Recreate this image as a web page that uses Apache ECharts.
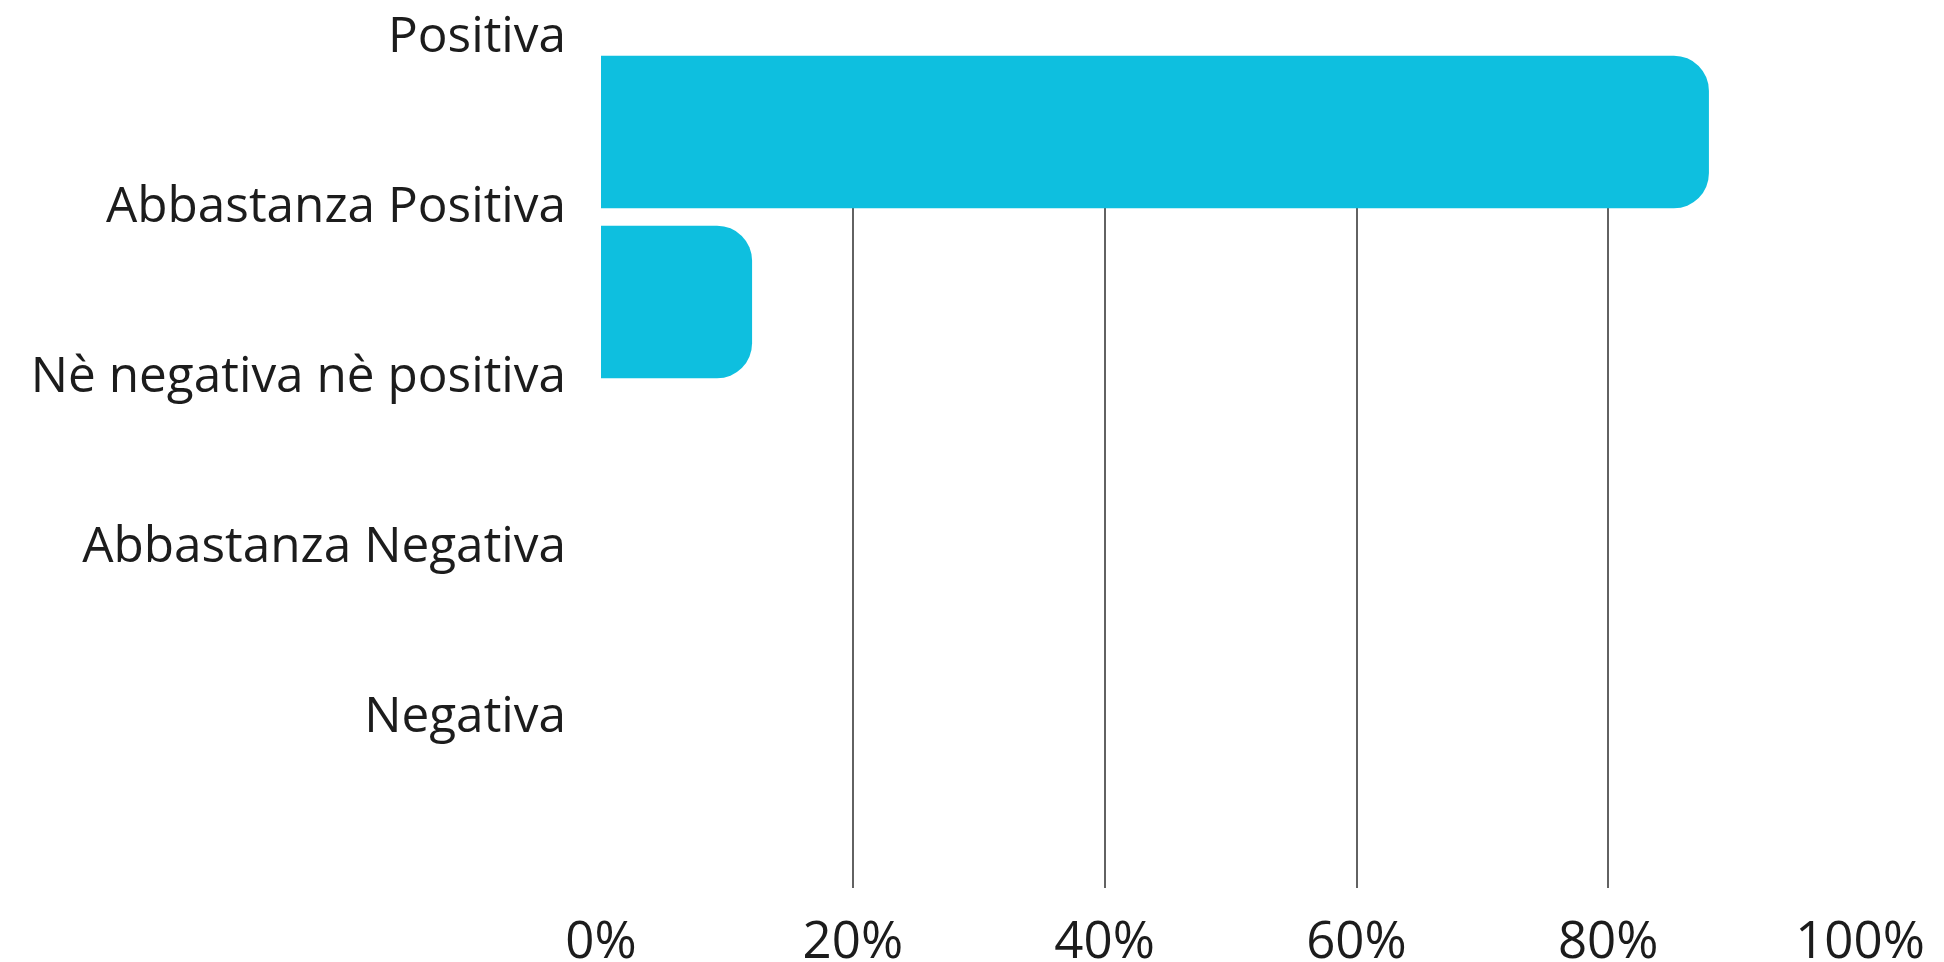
<!DOCTYPE html>
<html>
<head>
<meta charset="utf-8">
<title>Valutazione</title>
<script src="https://cdn.jsdelivr.net/npm/echarts@6/dist/echarts.min.js"></script>
<style>
  html, body { margin: 0; padding: 0; background: #ffffff; }
  #chart { width: 1944px; height: 962px; }
</style>
</head>
<body>
<div id="chart"></div>
<script>
// Answer categories, top to bottom
const categories = [
  'Positiva',
  'Abbastanza Positiva',
  'Nè negativa nè positiva',
  'Abbastanza Negativa',
  'Negativa'
];
// Share of answers per category (%)
const shares = [88, 12, 0, 0, 0];
// Percentage scale
const axisMax = 100;
const tickStep = 20;

const textColor = '#1c1c1c';
const barColor = '#0ebfdf';

const chart = echarts.init(document.getElementById('chart'), null, { renderer: 'canvas' });

chart.setOption({
  animation: false,
  backgroundColor: '#ffffff',
  grid: [
    // bars and category names
    { left: 601, right: 84, top: 47, bottom: 65, containLabel: false, outerBoundsMode: 'none' },
    // vertical reference lines and percentage ticks
    { left: 601, right: 84, top: 56, bottom: 74, containLabel: false, outerBoundsMode: 'none' }
  ],
  xAxis: [
    {
      gridIndex: 0,
      type: 'value',
      min: 0,
      max: axisMax,
      show: false
    },
    {
      gridIndex: 1,
      type: 'value',
      min: 0,
      max: axisMax,
      interval: tickStep,
      axisLine: { show: false },
      axisTick: { show: false },
      splitLine: {
        show: true,
        showMinLine: false,
        showMaxLine: false,
        lineStyle: { color: '#2e2e2e', width: 1.5 }
      },
      axisLabel: {
        formatter: '{value}%',
        fontFamily: '"Open Sans", sans-serif',
        fontSize: 51,
        color: textColor,
        margin: 30
      }
    }
  ],
  yAxis: [
    {
      gridIndex: 0,
      type: 'category',
      inverse: true,
      data: categories,
      axisLine: { show: false },
      axisTick: { show: false },
      splitLine: { show: false },
      axisLabel: {
        interval: 0,
        margin: 35,
        color: textColor,
        fontFamily: '"Open Sans", sans-serif',
        fontSize: 49.5,
        // names sit on the upper edge of their row
        verticalAlign: 'bottom',
        lineHeight: 189
      }
    },
    {
      gridIndex: 1,
      type: 'value',
      show: false
    }
  ],
  series: [
    {
      type: 'bar',
      xAxisIndex: 0,
      yAxisIndex: 0,
      data: shares,
      barWidth: 152.6,
      itemStyle: {
        color: barColor,
        borderRadius: [0, 35, 35, 0]
      },
      z: 3
    }
  ]
});
</script>
</body>
</html>
